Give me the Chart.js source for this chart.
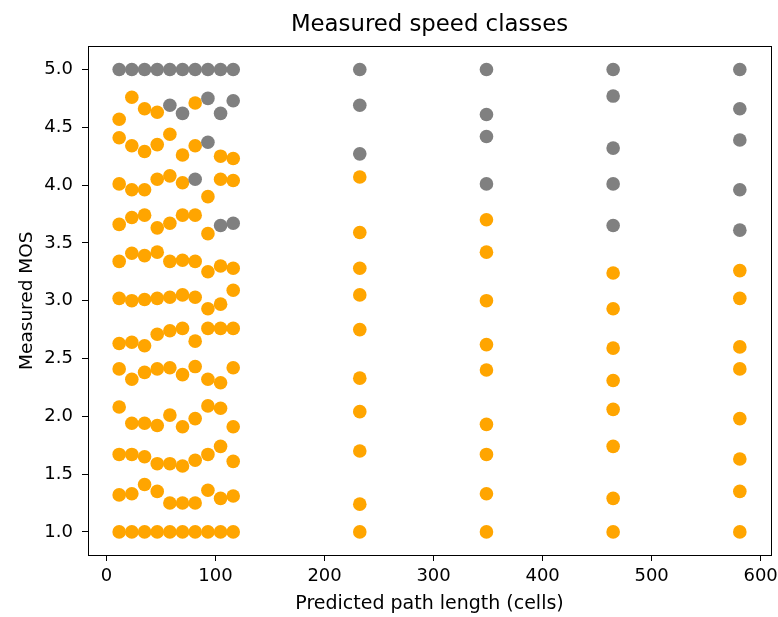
<!DOCTYPE html>
<html>
<head>
<meta charset="utf-8">
<script src="https://cdn.jsdelivr.net/npm/chart.js@4"></script>
<style>
  body { margin: 0; background: #fff; }
  #wrap { width: 778px; height: 617px; }
</style>
</head>
<body>
<div id="wrap"><canvas id="grafico" width="778" height="617"></canvas></div>
<script>
// predicted path length of each column of points (cells)
const pathLengths = [11.6, 23.2, 34.9, 46.5, 58.1, 69.7, 81.3, 93.0, 104.6, 116.2, 232.3, 348.5, 464.7, 580.9];

// measured MOS per column, top to bottom
const mos = [
  [5.0, 4.57, 4.41, 4.01, 3.66, 3.34, 3.02, 2.63, 2.41, 2.08, 1.67, 1.32, 1.0],
  [5.0, 4.76, 4.34, 3.96, 3.72, 3.41, 3.00, 2.64, 2.32, 1.94, 1.67, 1.33, 1.0],
  [5.0, 4.66, 4.29, 3.96, 3.74, 3.39, 3.01, 2.61, 2.38, 1.94, 1.65, 1.41, 1.0],
  [5.0, 4.63, 4.35, 4.05, 3.63, 3.42, 3.02, 2.71, 2.41, 1.92, 1.59, 1.35, 1.0],
  [5.0, 4.69, 4.44, 4.08, 3.67, 3.34, 3.03, 2.74, 2.42, 2.01, 1.59, 1.25, 1.0],
  [5.0, 4.62, 4.26, 4.02, 3.74, 3.35, 3.05, 2.76, 2.36, 1.91, 1.57, 1.25, 1.0],
  [5.0, 4.71, 4.34, 4.05, 3.74, 3.34, 3.03, 2.65, 2.43, 1.98, 1.62, 1.25, 1.0],
  [5.0, 4.75, 4.37, 3.90, 3.58, 3.25, 2.93, 2.76, 2.32, 2.09, 1.67, 1.36, 1.0],
  [5.0, 4.62, 4.25, 4.05, 3.65, 3.30, 2.97, 2.76, 2.29, 2.07, 1.74, 1.29, 1.0],
  [5.0, 4.73, 4.23, 4.04, 3.67, 3.28, 3.09, 2.76, 2.42, 1.91, 1.61, 1.31, 1.0],
  [5.0, 4.69, 4.27, 4.07, 3.59, 3.28, 3.05, 2.75, 2.33, 2.04, 1.70, 1.24, 1.0],
  [5.0, 4.61, 4.42, 4.01, 3.70, 3.42, 3.00, 2.62, 2.40, 1.93, 1.67, 1.33, 1.0],
  [5.0, 4.77, 4.32, 4.01, 3.65, 3.24, 2.93, 2.59, 2.31, 2.06, 1.74, 1.29, 1.0],
  [5.0, 4.66, 4.39, 3.96, 3.61, 3.26, 3.02, 2.60, 2.41, 1.98, 1.63, 1.35, 1.0]
];

// 1 = gray point, 0 = orange point (same layout as mos)
const grayMask = [
  [1,0,0,0,0,0,0,0,0,0,0,0,0],
  [1,0,0,0,0,0,0,0,0,0,0,0,0],
  [1,0,0,0,0,0,0,0,0,0,0,0,0],
  [1,0,0,0,0,0,0,0,0,0,0,0,0],
  [1,1,0,0,0,0,0,0,0,0,0,0,0],
  [1,1,0,0,0,0,0,0,0,0,0,0,0],
  [1,0,0,1,0,0,0,0,0,0,0,0,0],
  [1,1,1,0,0,0,0,0,0,0,0,0,0],
  [1,1,0,0,1,0,0,0,0,0,0,0,0],
  [1,1,0,0,1,0,0,0,0,0,0,0,0],
  [1,1,1,0,0,0,0,0,0,0,0,0,0],
  [1,1,1,1,0,0,0,0,0,0,0,0,0],
  [1,1,1,1,1,0,0,0,0,0,0,0,0],
  [1,1,1,1,1,0,0,0,0,0,0,0,0]
];

const yTicks = [1.0, 1.5, 2.0, 2.5, 3.0, 3.5, 4.0, 4.5, 5.0];

const points = [];
const colors = [];
pathLengths.forEach((x, i) => {
  mos[i].forEach((y, j) => {
    points.push({ x: x, y: y });
    colors.push(grayMask[i][j] ? '#808080' : '#FFA500');
  });
});

// matplotlib style box around the plot
const frame = {
  id: 'frame',
  afterDraw(chart) {
    const a = chart.chartArea;
    const ctx = chart.ctx;
    ctx.save();
    ctx.strokeStyle = '#000';
    ctx.lineWidth = 1;
    ctx.strokeRect(Math.round(a.left) + 0.5, Math.round(a.top) + 0.5,
      Math.round(a.right - a.left), Math.round(a.bottom - a.top));
    ctx.restore();
  }
};

const tickFont = { family: 'DejaVu Sans', size: 18 };

new Chart(document.getElementById('grafico').getContext('2d'), {
  type: 'scatter',
  data: {
    datasets: [{
      data: points,
      pointBackgroundColor: colors,
      pointBorderWidth: 0,
      pointRadius: 6.8,
      pointHoverRadius: 6.8
    }]
  },
  options: {
    responsive: false,
    animation: false,
    layout: { padding: { left: 0, right: 7, top: 0, bottom: 0 } },
    plugins: {
      legend: { display: false },
      tooltip: { enabled: false },
      title: {
        display: true,
        fullSize: false,
        text: 'Measured speed classes',
        color: '#000',
        font: { family: 'DejaVu Sans', size: 22.8, weight: 'normal' },
        padding: { top: 11.5, bottom: 7.5 }
      }
    },
    scales: {
      x: {
        type: 'linear',
        min: -17,
        max: 609.5,
        afterFit(scale) {
          scale.height = 62;
          scale.paddingLeft = 0;
          scale.paddingRight = 0;
        },
        border: { display: true, color: '#000', width: 1 },
        grid: { drawOnChartArea: false, drawTicks: true, tickLength: 6, color: '#000' },
        ticks: { stepSize: 100, includeBounds: false, color: '#000', font: tickFont, padding: 5 },
        title: {
          display: true,
          text: 'Predicted path length (cells)',
          color: '#000',
          font: { family: 'DejaVu Sans', size: 19 },
          padding: { top: 0, bottom: 2 }
        }
      },
      y: {
        type: 'linear',
        min: 0.8,
        max: 5.2,
        afterFit(scale) { scale.width = 88; },
        afterBuildTicks(scale) { scale.ticks = yTicks.map(v => ({ value: v })); },
        border: { display: true, color: '#000', width: 1 },
        grid: { drawOnChartArea: false, drawTicks: true, tickLength: 6, color: '#000' },
        ticks: { color: '#000', font: tickFont, padding: 9, callback: v => v.toFixed(1) },
        title: {
          display: true,
          text: 'Measured MOS',
          color: '#000',
          font: { family: 'DejaVu Sans', size: 18.5 },
          padding: { top: 16, bottom: 0 }
        }
      }
    }
  },
  plugins: [frame]
});
</script>
</body>
</html>
